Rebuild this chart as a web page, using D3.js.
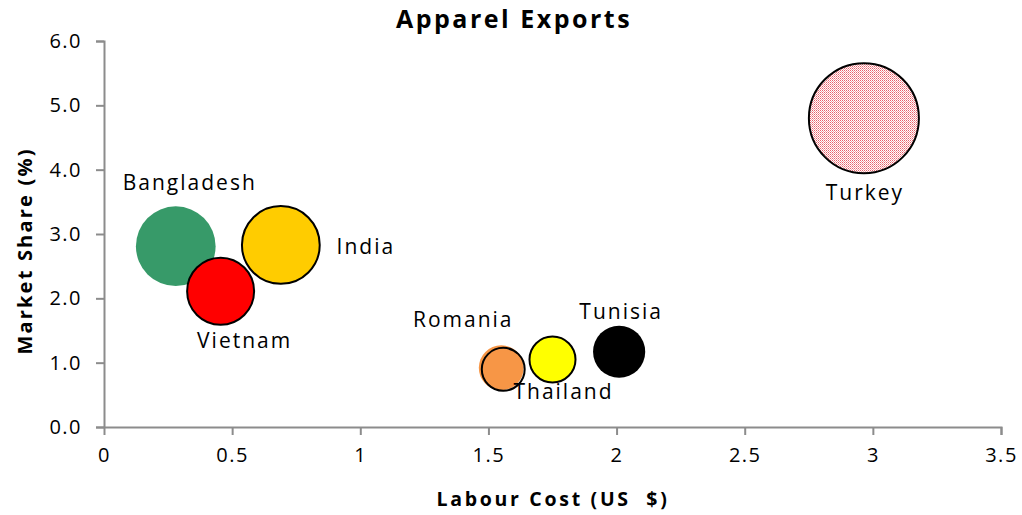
<!DOCTYPE html>
<html>
<head>
<meta charset="utf-8">
<script src="https://cdn.jsdelivr.net/npm/d3@7"></script>
<style>
  html, body { margin: 0; padding: 0; background: #fff; }
  svg { display: block; font-family: "Open Sans", sans-serif; }
</style>
</head>
<body>
<svg id="chart" width="1022" height="515"></svg>
<script>
// ---- data ----
const countries   = ["Bangladesh", "India", "Vietnam", "Romania", "Thailand", "Tunisia", "Turkey"];
const labourCost  = [0.28, 0.69, 0.455, 1.55, 1.75, 2.01, 2.965];
const marketShare = [2.81, 2.83, 2.11, 0.92, 1.05, 1.17, 4.80];
const bubbleSize  = [6.3, 6.0, 4.45, 2.0, 2.1, 2.7, 12.0];
const xTicks = [0, 0.5, 1, 1.5, 2, 2.5, 3, 3.5];
const yTicks = [0, 1, 2, 3, 4, 5, 6];

// ---- styles / layout ----
const fills   = ["#379a69", "#ffcc00", "#ff0000", "#f79646", "#ffff00", "#000000", "url(#turkeyPat)"];
const strokes = [null, "#000", "#000", "offset", "#000", null, "#000"];
const labelPos = { // pixel offsets from bubble centre, text-anchor middle
  "Bangladesh": [14, -56], "India": [85, 9], "Vietnam": [24, 57],
  "Romania": [-38, -41], "Thailand": [11, 40], "Tunisia": [2, -33], "Turkey": [1, 82]
};

const svg = d3.select("#chart");
const x = d3.scaleLinear().domain([0, 3.5]).range([104, 1001]);
const y = d3.scaleLinear().domain([0, 6]).range([427, 41]);
const r = d3.scaleSqrt().domain([0, 12]).range([0, 55]);

// pattern for Turkey
const defs = svg.append("defs");
const pat = defs.append("pattern").attr("id", "turkeyPat")
  .attr("width", 2).attr("height", 2).attr("patternUnits", "userSpaceOnUse");
pat.append("rect").attr("width", 2).attr("height", 2).attr("fill", "#ffffff");
pat.append("rect").attr("width", 1).attr("height", 1).attr("fill", "#e8606a");
pat.append("rect").attr("x", 1).attr("y", 1).attr("width", 1).attr("height", 1).attr("fill", "#f3a0a5");

const axisColor = "#8c8c8c";

// y axis
const yAxis = svg.append("g").attr("transform", "translate(104,0)")
  .call(d3.axisLeft(y).tickValues(yTicks).tickFormat(d3.format(".1f")).tickSize(8).tickPadding(14));
// x axis
const xAxis = svg.append("g").attr("transform", "translate(0,427)")
  .call(d3.axisBottom(x).tickValues(xTicks).tickFormat(d => d3.format("")(d)).tickSize(8).tickPadding(13));

[yAxis, xAxis].forEach(g => {
  g.select(".domain").attr("stroke", axisColor).attr("stroke-width", 2);
  g.selectAll(".tick line").attr("stroke", axisColor).attr("stroke-width", 2);
  g.selectAll(".tick text").attr("fill", "#000").attr("font-size", 20)
    .attr("font-family", "'Open Sans', sans-serif").attr("letter-spacing", 1.5);
});
xAxis.select(".domain").attr("d", "M96,0.5H1001.5V8");
yAxis.select(".domain").attr("d", "M-8,41.5H0.5V427");

// bubbles
const data = countries.map((c, i) => ({ c, x: labourCost[i], y: marketShare[i], s: bubbleSize[i], fill: fills[i], stroke: strokes[i] }));
const bub = svg.append("g");
data.forEach(d => {
  const cx = x(d.x), cy = y(d.y), rr = r(d.s);
  bub.append("circle").attr("cx", cx).attr("cy", cy).attr("r", rr)
    .attr("fill", d.fill)
    .attr("stroke", d.stroke && d.stroke !== "offset" ? d.stroke : "none")
    .attr("stroke-width", 2);
  if (d.stroke === "offset") {
    bub.append("circle").attr("cx", cx + 2).attr("cy", cy + 1.5).attr("r", rr - 1)
      .attr("fill", "none").attr("stroke", "#000").attr("stroke-width", 2);
  }
});

// labels
svg.append("g").selectAll("text").data(data).join("text")
  .attr("x", d => x(d.x) + labelPos[d.c][0])
  .attr("y", d => y(d.y) + labelPos[d.c][1])
  .attr("text-anchor", "middle")
  .attr("font-size", 21).attr("letter-spacing", 2).attr("fill", "#000")
  .text(d => d.c);

// title
svg.append("text").attr("x", 514).attr("y", 28).attr("text-anchor", "middle")
  .attr("font-size", 25).attr("font-weight", "bold").attr("letter-spacing", 2.5)
  .text("Apparel Exports");

// x axis title
svg.append("text").attr("x", 553).attr("y", 506).attr("text-anchor", "middle")
  .attr("font-size", 19.5).attr("font-weight", "bold").attr("letter-spacing", 2.7)
  .attr("xml:space", "preserve")
  .text("Labour Cost (US  $)");

// y axis title
svg.append("text").attr("transform", "translate(32,251) rotate(-90)")
  .attr("text-anchor", "middle")
  .attr("font-size", 20).attr("font-weight", "bold").attr("letter-spacing", 2.2)
  .text("Market Share (%)");
</script>
</body>
</html>
